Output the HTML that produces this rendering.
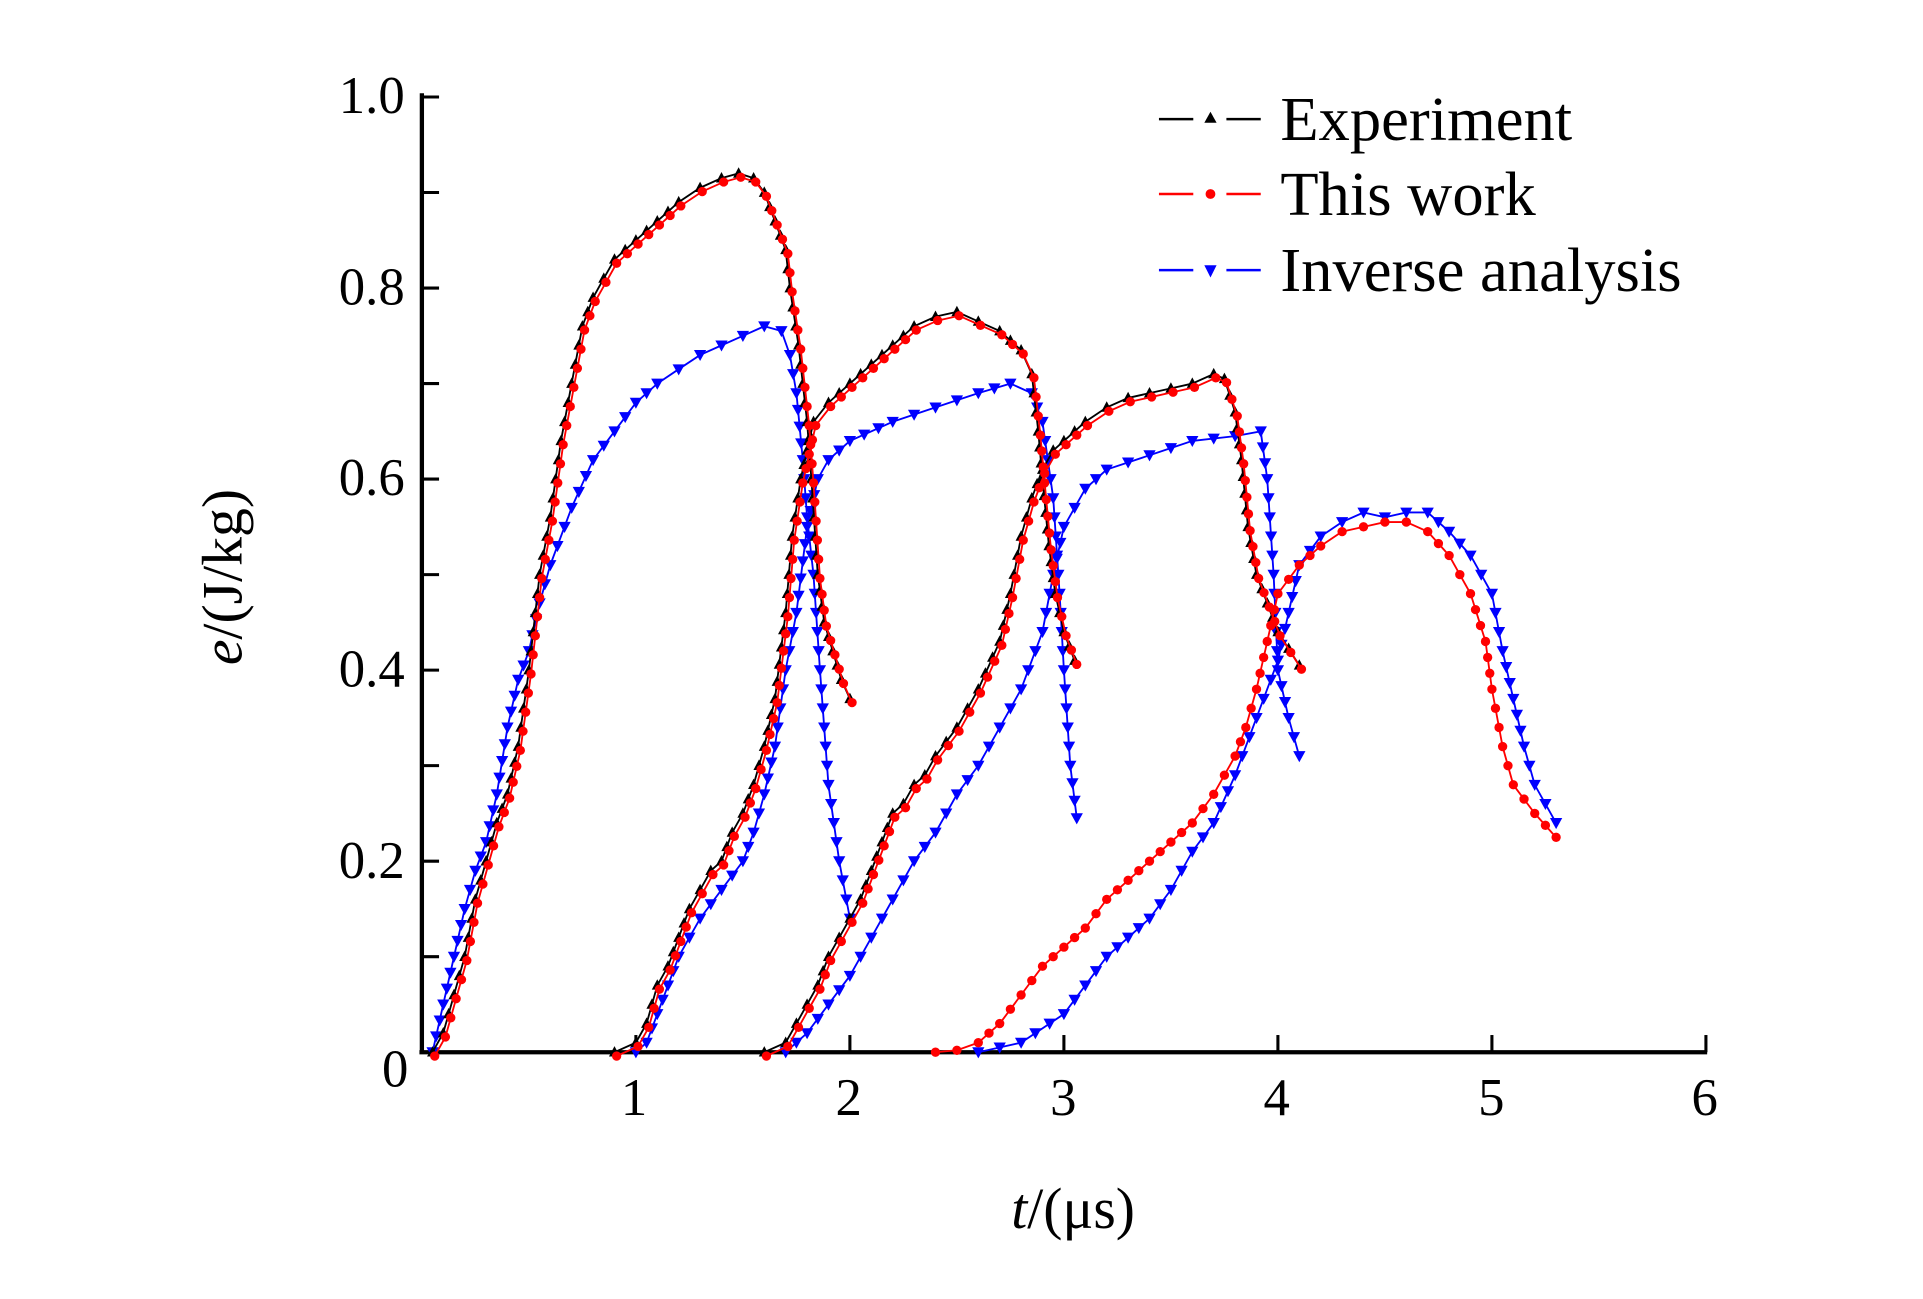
<!DOCTYPE html>
<html><head><meta charset="utf-8"><style>
html,body{margin:0;padding:0;background:#fff;}
svg{display:block;}
text{font-family:"Liberation Serif",serif;}
</style></head><body>
<svg id="s" width="1923" height="1299" viewBox="0 0 1568 1058" preserveAspectRatio="none" xmlns="http://www.w3.org/2000/svg">
<g id="axes" stroke="#000" fill="none">
<line x1="344" y1="76" x2="344" y2="858" stroke-width="3.5"/>
<line x1="342" y1="857" x2="1392" y2="857" stroke-width="3.5"/>
</g>
<g id="ticks" stroke="#000" stroke-width="2.5"></g>
<g font-size="43" fill="#000" text-anchor="end">
<text x="330" y="92">1.0</text>
<text x="330" y="248">0.8</text>
<text x="330" y="403">0.6</text>
<text x="330" y="559">0.4</text>
<text x="330" y="715">0.2</text>
<text x="333" y="885">0</text>
</g>
<g font-size="43" fill="#000" text-anchor="middle">
<text x="517" y="908">1</text>
<text x="692" y="908">2</text>
<text x="867" y="908">3</text>
<text x="1041" y="908">4</text>
<text x="1216" y="908">5</text>
<text x="1390" y="908">6</text>
</g>
<text x="875" y="1000" font-size="47" text-anchor="middle"><tspan font-style="italic">t</tspan>/(μs)</text>
<text transform="translate(197,470) rotate(-90)" font-size="47" text-anchor="middle"><tspan font-style="italic">e</tspan>/(J/kg)</text>
<g id="data"></g>
<g id="legend">
<line x1="945" y1="97" x2="973" y2="97" stroke="#000" stroke-width="2"/><line x1="1000" y1="97" x2="1028" y2="97" stroke="#000" stroke-width="2"/>
<polygon points="987,91 982,100 992,100" fill="#000"/>
<line x1="945" y1="158" x2="973" y2="158" stroke="#f00" stroke-width="2"/><line x1="1000" y1="158" x2="1028" y2="158" stroke="#f00" stroke-width="2"/>
<circle cx="987" cy="158" r="4" fill="#f00"/>
<line x1="945" y1="220" x2="973" y2="220" stroke="#00f" stroke-width="2"/><line x1="1000" y1="220" x2="1028" y2="220" stroke="#00f" stroke-width="2"/>
<polygon points="982,216 992,216 987,226" fill="#00f"/>
<g font-size="51" fill="#000">
<text x="1044" y="114">Experiment</text>
<text x="1044" y="175">This work</text>
<text x="1044" y="237">Inverse analysis</text>
</g>
</g>
</svg>
<script>
var X=t=>344+t*174.5, Y=e=>857-e*778;
var tk=document.getElementById('ticks'),h='';
for(var i=1;i<=10;i++){h+='<line x1="344" y1="'+Y(i/10)+'" x2="358" y2="'+Y(i/10)+'"/>';}
for(var i=1;i<=6;i++){h+='<line x1="'+X(i)+'" y1="857" x2="'+X(i)+'" y2="843"/>';}
tk.innerHTML=h;
var E=[
[[0.05,0],[0.1,0.02],[0.15,0.06],[0.2,0.1],[0.25,0.16],[0.3,0.2],[0.35,0.24],[0.4,0.27],[0.45,0.32],[0.5,0.4],[0.55,0.5],[0.6,0.56],[0.65,0.64],[0.7,0.7],[0.75,0.76],[0.8,0.79],[0.85,0.81],[0.9,0.83],[1.0,0.85],[1.1,0.87],[1.2,0.89],[1.3,0.905],[1.4,0.915],[1.48,0.92],[1.55,0.915],[1.6,0.9],[1.65,0.87],[1.7,0.84],[1.72,0.8],[1.76,0.74],[1.8,0.66],[1.82,0.6],[1.85,0.5],[1.88,0.45],[1.92,0.42],[1.96,0.39],[2.0,0.37]],
[[0.9,0],[1.0,0.01],[1.05,0.03],[1.1,0.07],[1.15,0.09],[1.2,0.12],[1.25,0.15],[1.3,0.17],[1.35,0.19],[1.4,0.2],[1.45,0.23],[1.5,0.25],[1.55,0.28],[1.6,0.32],[1.65,0.37],[1.7,0.46],[1.73,0.54],[1.77,0.6],[1.8,0.63],[1.83,0.66],[1.9,0.68],[2.0,0.7],[2.1,0.72],[2.2,0.74],[2.3,0.76],[2.4,0.77],[2.5,0.775],[2.6,0.765],[2.7,0.755],[2.8,0.735],[2.85,0.71],[2.88,0.65],[2.9,0.6],[2.93,0.53],[2.96,0.48],[3.0,0.44],[3.05,0.41]],
[[1.6,0],[1.7,0.01],[1.75,0.03],[1.8,0.05],[1.85,0.07],[1.9,0.1],[1.95,0.12],[2.0,0.14],[2.05,0.16],[2.1,0.19],[2.15,0.22],[2.2,0.25],[2.25,0.26],[2.3,0.28],[2.35,0.29],[2.4,0.31],[2.5,0.34],[2.6,0.38],[2.7,0.43],[2.75,0.48],[2.8,0.54],[2.85,0.58],[2.9,0.61],[2.95,0.63],[3.0,0.64],[3.1,0.66],[3.2,0.675],[3.3,0.685],[3.4,0.69],[3.5,0.695],[3.6,0.7],[3.7,0.71],[3.75,0.705],[3.8,0.67],[3.83,0.62],[3.86,0.55],[3.9,0.5],[3.95,0.47],[4.0,0.44],[4.1,0.405]]];
var R4=[[2.4,0],[2.5,0.002],[2.6,0.01],[2.7,0.03],[2.8,0.06],[2.9,0.09],[3.0,0.11],[3.1,0.13],[3.2,0.16],[3.3,0.18],[3.4,0.2],[3.5,0.22],[3.6,0.24],[3.7,0.27],[3.8,0.31],[3.85,0.34],[3.9,0.38],[3.95,0.43],[4.0,0.48],[4.1,0.51],[4.2,0.53],[4.3,0.545],[4.4,0.55],[4.5,0.555],[4.6,0.555],[4.7,0.545],[4.8,0.52],[4.9,0.48],[4.97,0.43],[5.0,0.38],[5.05,0.32],[5.1,0.28],[5.2,0.25],[5.3,0.225]];
var B=[
[[0.05,0],[0.1,0.05],[0.15,0.1],[0.2,0.15],[0.25,0.19],[0.3,0.22],[0.35,0.27],[0.4,0.34],[0.45,0.39],[0.5,0.42],[0.55,0.47],[0.6,0.51],[0.7,0.57],[0.8,0.62],[0.9,0.65],[1.0,0.68],[1.1,0.7],[1.2,0.715],[1.3,0.73],[1.4,0.74],[1.5,0.75],[1.6,0.76],[1.68,0.755],[1.72,0.73],[1.75,0.69],[1.78,0.62],[1.8,0.56],[1.83,0.5],[1.86,0.4],[1.9,0.28],[1.95,0.2],[2.0,0.14]],
[[1.0,0],[1.05,0.01],[1.1,0.04],[1.15,0.07],[1.2,0.1],[1.25,0.12],[1.3,0.14],[1.4,0.17],[1.5,0.2],[1.55,0.23],[1.6,0.27],[1.65,0.32],[1.7,0.4],[1.75,0.46],[1.8,0.55],[1.85,0.6],[1.9,0.62],[2.0,0.64],[2.2,0.66],[2.4,0.675],[2.6,0.69],[2.75,0.7],[2.85,0.69],[2.9,0.66],[2.95,0.58],[2.98,0.48],[3.0,0.4],[3.03,0.3],[3.06,0.245]],
[[1.7,0],[1.8,0.02],[1.9,0.05],[2.0,0.08],[2.1,0.12],[2.2,0.16],[2.3,0.2],[2.4,0.23],[2.5,0.27],[2.6,0.3],[2.7,0.34],[2.8,0.38],[2.9,0.44],[2.95,0.5],[3.0,0.55],[3.1,0.59],[3.2,0.61],[3.4,0.625],[3.6,0.64],[3.8,0.645],[3.92,0.65],[3.95,0.6],[3.98,0.5],[4.0,0.4],[4.05,0.35],[4.1,0.31]],
[[2.6,0],[2.8,0.01],[3.0,0.04],[3.1,0.07],[3.2,0.1],[3.3,0.12],[3.4,0.14],[3.5,0.17],[3.6,0.21],[3.7,0.24],[3.8,0.29],[3.9,0.35],[4.0,0.41],[4.05,0.46],[4.1,0.51],[4.2,0.54],[4.3,0.555],[4.4,0.565],[4.5,0.56],[4.6,0.565],[4.7,0.565],[4.8,0.545],[4.9,0.52],[5.0,0.48],[5.05,0.42],[5.1,0.37],[5.15,0.32],[5.2,0.28],[5.3,0.24]]];
function interp(p){var o=[];for(var i=0;i<p.length-1;i++){var a=p[i],b=p[i+1];var dx=X(b[0])-X(a[0]),dy=Y(b[1])-Y(a[1]);var n=Math.max(1,Math.round(Math.hypot(dx,dy)/15));for(var k=0;k<n;k++){o.push([a[0]+(b[0]-a[0])*k/n,a[1]+(b[1]-a[1])*k/n]);}}o.push(p[p.length-1]);return o;}
var out='';
function series(p,col,mk){
 var d=p.map((q,i)=>(i?'L':'M')+X(q[0]).toFixed(1)+','+Y(q[1]).toFixed(1)).join('');
 out+='<path d="'+d+'" fill="none" stroke="'+col+'" stroke-width="1.5"/>';
 interp(p).forEach(q=>{var x=X(q[0]),y=Y(q[1]);
  if(mk=='up')out+='<polygon points="'+x+','+(y-5)+' '+(x-4.5)+','+(y+3.5)+' '+(x+4.5)+','+(y+3.5)+'" fill="'+col+'"/>';
  else if(mk=='down')out+='<polygon points="'+(x-5)+','+(y-4)+' '+(x+5)+','+(y-4)+' '+x+','+(y+5)+'" fill="'+col+'"/>';
  else out+='<circle cx="'+x+'" cy="'+y+'" r="3.8" fill="'+col+'"/>';});
}
B.forEach(p=>series(p,'#00f','down'));
E.forEach(p=>series(p,'#000','up'));
E.forEach(p=>series(p.map(q=>[q[0]+0.01,q[1]-0.004]),'#f00','dot'));
series(R4,'#f00','dot');
document.getElementById('data').innerHTML=out;
</script>
</body></html>
